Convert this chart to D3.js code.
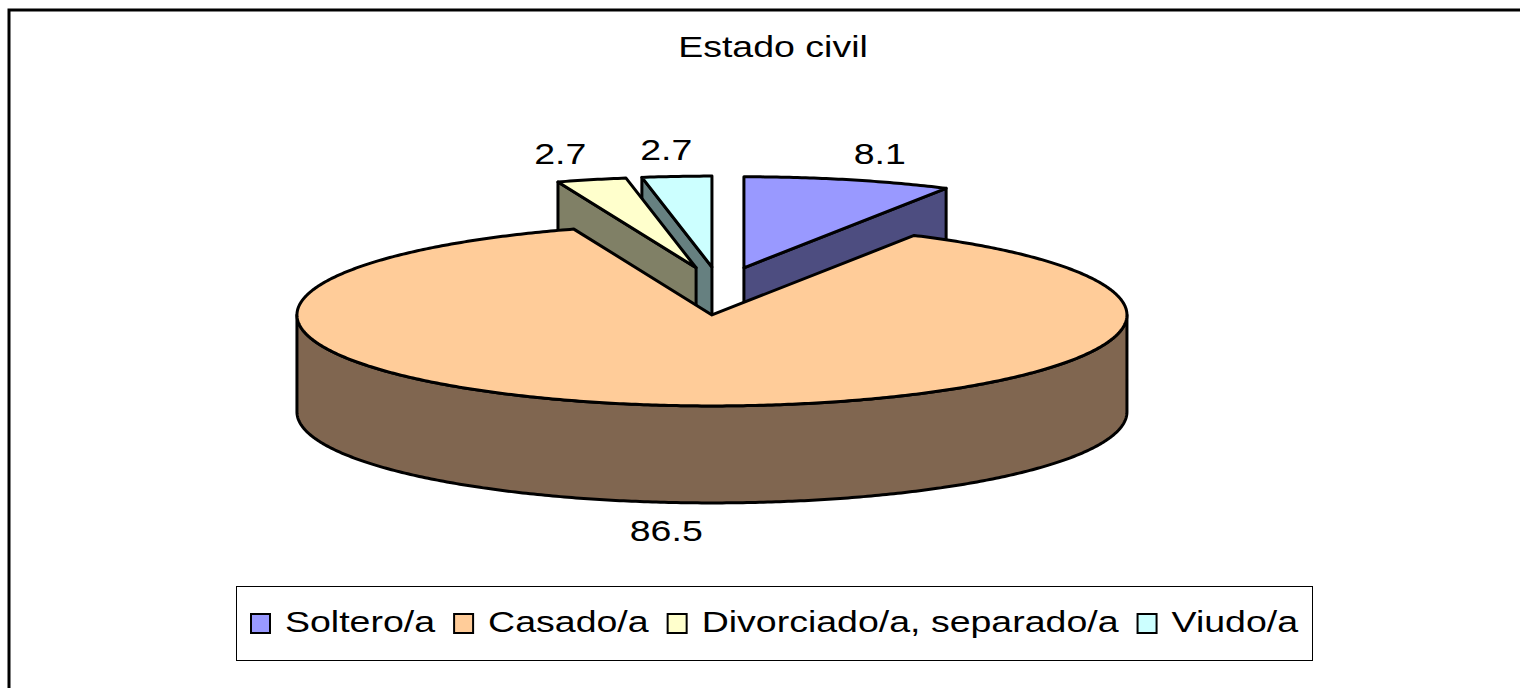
<!DOCTYPE html>
<html>
<head>
<meta charset="utf-8">
<script src="https://cdn.jsdelivr.net/npm/d3@7"></script>
<style>
  body { margin: 0; background: #fff; }
  svg { display: block; font-family: "Liberation Sans", Arial, sans-serif; }
</style>
</head>
<body>
<svg id="chart" width="1520" height="688"></svg>
<script>
// DATA
const categories = ["Soltero/a", "Casado/a", "Divorciado/a, separado/a", "Viudo/a"];
const values = [8.1, 86.5, 2.7, 2.7];
const labels = ["8.1", "86.5", "2.7", "2.7"];
const topColors = ["#9999FF", "#FFCC99", "#FFFFCC", "#CCFFFF"];
const sideColors = ["#4D4D80", "#806650", "#808066", "#668080"];
const title = "Estado civil";

// GEOMETRY
const W = 1520, H = 688;
const cx = 720, cy = 291;      // pie centre before explosion
const rx = 415, ry = 91;       // ellipse radii of the top face
const depth = 97;              // thickness of the pie
const explodeX = 95, explodeY = 24;
const labelK = 1.3;
const stretch = 1.25;          // the original text is drawn wider than Arial

const svg = d3.select("#chart");

// outer frame (runs off the right and bottom edges)
svg.append("rect")
  .attr("x", 9).attr("y", 10)
  .attr("width", W + 100).attr("height", H + 100)
  .attr("fill", "none").attr("stroke", "#000").attr("stroke-width", 3);

// widen text like the source; returns the final width
function widen(sel) {
  sel.each(function () {
    const w = this.getComputedTextLength();
    d3.select(this)
      .attr("textLength", w * stretch)
      .attr("lengthAdjust", "spacingAndGlyphs")
      .property("__w", w * stretch);
  });
  return sel;
}

// TITLE
svg.append("text")
  .attr("x", 773).attr("y", 57)
  .attr("text-anchor", "middle")
  .attr("font-size", 30)
  .text(title)
  .call(widen);

// PIE
const pie = d3.pie().sort(null).startAngle(0).endAngle(2 * Math.PI);
const arcs = pie(values).map((d, i) => {
  const mid = (d.startAngle + d.endAngle) / 2;
  return {
    ...d, i, mid,
    c: { x: cx + explodeX * Math.sin(mid), y: cy - explodeY * Math.cos(mid) }
  };
});

const pt = (c, a, r = 1, dy = 0) => [c.x + rx * r * Math.sin(a), c.y - ry * r * Math.cos(a) + dy];

const sample = (a, b) => {
  const n = Math.max(2, Math.ceil((b - a) / 0.01));
  return d3.range(n + 1).map(k => a + (b - a) * k / n);
};

const line = d3.line();
const pieGroup = svg.append("g")
  .attr("stroke", "#000")
  .attr("stroke-width", 3)
  .attr("stroke-linejoin", "round");

// back slices first
const order = arcs.slice().sort((p, q) => Math.cos(q.mid) - Math.cos(p.mid));

order.forEach(d => {
  const c = d.c;
  const a = d.startAngle, b = d.endAngle;
  const side = sideColors[d.i];

  const radialFace = ang => [pt(c, 0, 0), pt(c, ang), pt(c, ang, 1, depth), pt(c, 0, 0, depth)];

  // radial face at start angle
  if (Math.sin(a) < -1e-6) {
    pieGroup.append("path").attr("d", line(radialFace(a)) + "Z").attr("fill", side);
  }
  // radial face at end angle
  if (Math.sin(b) > 1e-6) {
    pieGroup.append("path").attr("d", line(radialFace(b)) + "Z").attr("fill", side);
  }
  // front outer wall
  const w0 = Math.max(a, Math.PI / 2), w1 = Math.min(b, 3 * Math.PI / 2);
  if (w1 > w0) {
    const angs = sample(w0, w1);
    const pts = angs.map(t => pt(c, t)).concat(angs.slice().reverse().map(t => pt(c, t, 1, depth)));
    pieGroup.append("path").attr("d", line(pts) + "Z").attr("fill", side);
  }
  // top face
  const topPts = [pt(c, 0, 0)].concat(sample(a, b).map(t => pt(c, t)));
  pieGroup.append("path").attr("d", line(topPts) + "Z").attr("fill", topColors[d.i]);
});

// VALUE LABELS
arcs.forEach(d => {
  const [x, y] = pt(d.c, d.mid, labelK, Math.cos(d.mid) < 0 ? depth : 0);
  svg.append("text")
    .attr("x", x).attr("y", y + 11)
    .attr("text-anchor", "middle")
    .attr("font-size", 30)
    .text(labels[d.i])
    .call(widen);
});

// LEGEND
svg.append("rect")
  .attr("x", 236.5).attr("y", 586.5)
  .attr("width", 1076).attr("height", 74)
  .attr("fill", "#fff").attr("stroke", "#000").attr("stroke-width", 1);

let lx = 251;
categories.forEach((name, i) => {
  svg.append("rect")
    .attr("x", lx).attr("y", 614)
    .attr("width", 19).attr("height", 19)
    .attr("fill", topColors[i]).attr("stroke", "#000").attr("stroke-width", 2);
  const t = svg.append("text")
    .attr("x", lx + 34).attr("y", 632)
    .attr("font-size", 30)
    .text(name)
    .call(widen);
  lx += 34 + t.property("__w") + 19;
});
</script>
</body>
</html>
